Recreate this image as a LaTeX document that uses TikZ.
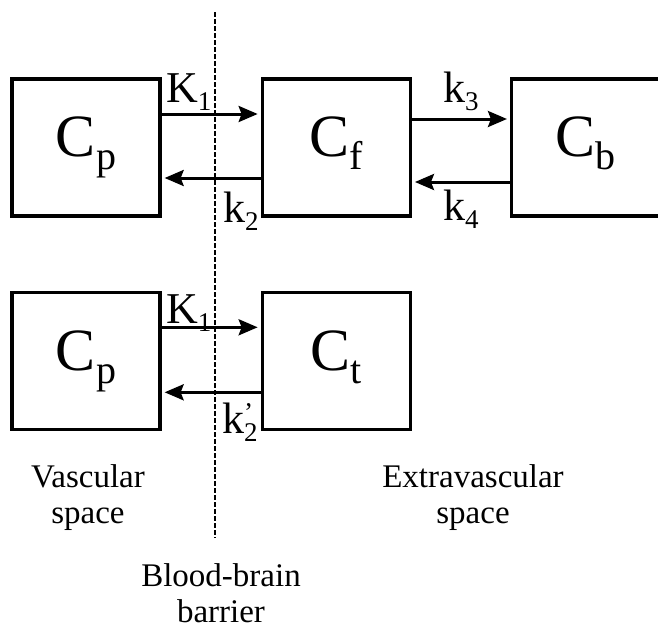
\documentclass[tikz,border=0pt]{standalone}
\usepackage{fontspec}
\setmainfont{Liberation Serif}
\usetikzlibrary{arrows.meta,positioning}

\newcommand{\conc}[1]{C\raisebox{-13pt}{\fontsize{40}{40}\selectfont #1}}
\newcommand{\rate}[2]{#1\raisebox{-8pt}{\fontsize{27}{27}\selectfont #2}}

\begin{document}
\begin{tikzpicture}[x=1pt, y=-1pt,
  comp/.style={draw, line width=3.3pt, minimum width=148pt, minimum height=137pt,
    inner sep=0pt, font=\fontsize{60}{60}\selectfont, text height=40pt, text depth=22pt},
  arr/.style={-{Stealth[length=19pt, width=16pt, inset=3pt]}, line width=3pt, shorten >=3pt},
  ratelbl/.style={anchor=base west, inner sep=0pt, font=\fontsize{44}{44}\selectfont},
  region/.style={anchor=base, align=center, inner sep=0pt, font=\fontsize{33}{36}\selectfont},
  barrier/.style={line width=2.5pt, dash pattern=on 4.5pt off 2.5pt},
  node distance=99pt
]
  \useasboundingbox (0,0) rectangle (658,629);

  % Two-tissue model
  \node[comp] at (86,147.5) (cpA) {\conc{p}};
  \node[comp, right=of cpA] (cf) {\conc{f}};
  \node[comp, right=98pt of cf] (cb) {\conc{b}};

  % One-tissue model
  \node[comp, below=73.5pt of cpA] (cpB) {\conc{p}};
  \node[comp, right=of cpB] (ct) {\conc{t}};

  % Rate constants
  \draw[arr] ([yshift=33.5pt]cpA.east) -- ([yshift=33.5pt]cf.west);
  \draw[arr] ([yshift=-30.5pt]cf.west) -- ([yshift=-30.5pt]cpA.east);
  \draw[arr] ([yshift=28.5pt]cf.east) -- ([yshift=28.5pt]cb.west);
  \draw[arr] ([yshift=-34.5pt]cb.west) -- ([yshift=-34.5pt]cf.east);
  \draw[arr] ([yshift=34pt]cpB.east) -- ([yshift=34pt]ct.west);
  \draw[arr] ([yshift=-31pt]ct.west) -- ([yshift=-31pt]cpB.east);

  \node[ratelbl] (K1A) at (166,102) {\rate{K}{1}};
  \node[ratelbl] (k2A) at (223,222) {\rate{k}{2}};
  \node[ratelbl] (k3) at (443,102) {\rate{k}{3}};
  \node[ratelbl] (k4) at (443,220) {\rate{k}{4}};
  \node[ratelbl] (K1B) at (166,323) {\rate{K}{1}};
  \node[ratelbl] (k2B) at (222,433) {k\rlap{\raisebox{12pt}{\fontsize{27}{27}\selectfont '}}\raisebox{-8pt}{\fontsize{27}{27}\selectfont 2}};

  % Blood-brain barrier
  \coordinate (bbbtop) at (215,12);
  \coordinate (bbbbot) at (215,538);
  \draw[barrier] (bbbtop) -- (bbbbot);

  % Region labels
  \node[region] (vasc) at (88,523) {Vascular\\space};
  \node[region] (extra) at (473,523) {Extravascular\\space};
  \node[region] (bbb) at (221,622) {Blood-brain\\barrier};
\end{tikzpicture}
\end{document}
